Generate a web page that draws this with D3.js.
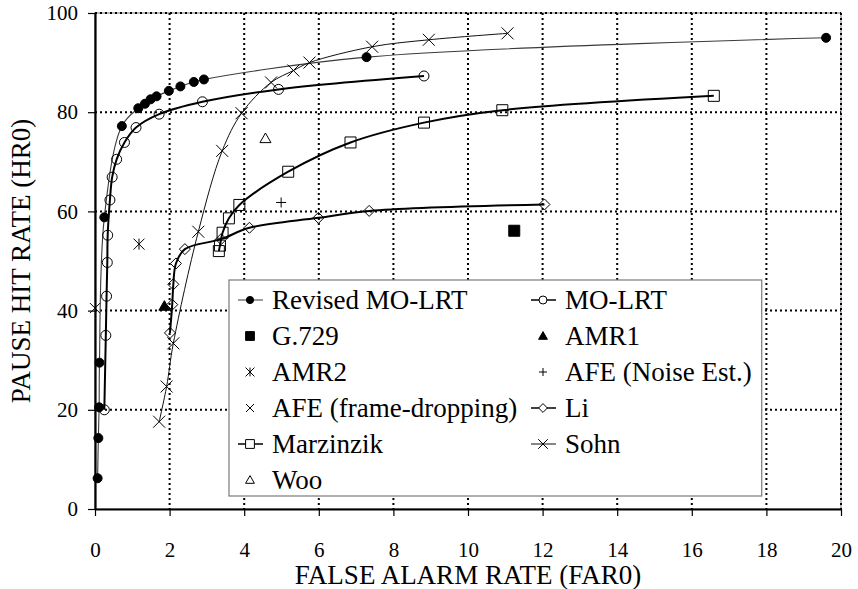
<!DOCTYPE html>
<html>
<head>
<meta charset="utf-8">
<script src="https://cdn.jsdelivr.net/npm/d3@7"></script>
<style>
  body { margin: 0; background: #fff; }
  svg text { font-family: "Liberation Serif", "Times New Roman", Times, "DejaVu Serif", serif; }
</style>
</head>
<body>
<div id="chart"></div>
<script>
// Values: FAR0 (x) and HR0 (y) for each detector
const revisedFar = [0.07, 0.09, 0.11, 0.12, 0.25, 0.72, 1.16, 1.34, 1.49, 1.65, 1.98, 2.29, 2.65, 2.92, 7.28, 19.6];
const revisedHr  = [6.2, 14.3, 20.5, 29.5, 58.8, 77.2, 80.8, 81.7, 82.6, 83.2, 84.3, 85.2, 86.1, 86.6, 91.1, 95.0];

const moLrtFar = [0.25, 0.29, 0.31, 0.33, 0.34, 0.40, 0.46, 0.58, 0.79, 1.10, 1.72, 2.88, 4.92, 8.82];
const moLrtHr  = [20.0, 35.0, 42.9, 49.7, 55.2, 62.3, 66.9, 70.5, 73.9, 76.9, 79.6, 82.1, 84.6, 87.3];

const liFar = [2.01, 2.07, 2.10, 2.17, 2.41, 3.38, 4.14, 5.99, 7.35, 12.05];
const liHr  = [35.5, 41.2, 45.3, 49.5, 52.4, 54.4, 56.7, 58.7, 60.1, 61.4];

const marzFar = [3.32, 3.35, 3.42, 3.59, 3.87, 5.18, 6.85, 8.82, 10.92, 16.59];
const marzHr  = [52.0, 53.1, 55.7, 58.6, 61.3, 68.0, 73.9, 77.9, 80.4, 83.3];

const sohnFar = [1.72, 1.92, 2.10, 2.77, 3.41, 3.93, 4.72, 5.32, 5.75, 7.43, 8.95, 11.06];
const sohnHr  = [17.6, 24.7, 33.4, 55.9, 72.2, 79.8, 86.0, 88.4, 90.0, 93.2, 94.6, 95.9];

// single operating points
const g729Far = [11.24], g729Hr = [56.1];
const amr1Far = [1.86], amr1Hr = [40.9];
const amr2Far = [1.18], amr2Hr = [53.4];
const afeNoiseFar = [4.99], afeNoiseHr = [61.8];
const afeDropFar = [0.0], afeDropHr = [40.5];
const wooFar = [4.57], wooHr = [74.7];

// Axis ticks
const xTicks = [0, 2, 4, 6, 8, 10, 12, 14, 16, 18, 20];
const yTicks = [0, 20, 40, 60, 80, 100];

// Series table (legend order, two columns row by row)
const series = [
    { name: "Revised MO-LRT", far: revisedFar, hr: revisedHr, shape: "circle", filled: true, size: 9, lineW: 1.1, lineC: "#3a3a3a" },
    { name: "MO-LRT", far: moLrtFar, hr: moLrtHr, shape: "circle", filled: false, size: 10, lineW: 2, lineC: "#000" },
    { name: "G.729", far: g729Far, hr: g729Hr, shape: "square", filled: true, size: 11 },
    { name: "AMR1", far: amr1Far, hr: amr1Hr, shape: "triangle", filled: true, size: 11 },
    { name: "AMR2", far: amr2Far, hr: amr2Hr, shape: "star", filled: false, size: 11 },
    { name: "AFE (Noise Est.)", far: afeNoiseFar, hr: afeNoiseHr, shape: "plus", filled: false, size: 10 },
    { name: "AFE (frame-dropping)", far: afeDropFar, hr: afeDropHr, shape: "x", filled: false, size: 10 },
    { name: "Li", far: liFar, hr: liHr, shape: "diamond", filled: false, size: 11, lineW: 2, lineC: "#000" },
    { name: "Marzinzik", far: marzFar, hr: marzHr, shape: "square", filled: false, size: 11, lineW: 2, lineC: "#000" },
    { name: "Sohn", far: sohnFar, hr: sohnHr, shape: "x", filled: false, size: 12, lineW: 1, lineC: "#111" },
    { name: "Woo", far: wooFar, hr: wooHr, shape: "triangle", filled: false, size: 11 }
];

// Sizes
const W = 858, H = 589;
const margin = { top: 13, right: 17, bottom: 80, left: 95 };
const width = W - margin.left - margin.right,
    height = H - margin.top - margin.bottom;

// marker shapes, centred on 0,0
function markerPath(shape, s) {
    const h = s / 2;
    switch (shape) {
        case "circle": return d3.symbol(d3.symbolCircle, Math.PI * h * h)();
        case "square": return `M${-h},${-h}H${h}V${h}H${-h}Z`;
        case "triangle": return `M0,${-h}L${h},${h * 0.75}L${-h},${h * 0.75}Z`;
        case "diamond": return `M0,${-h}L${h},0L0,${h}L${-h},0Z`;
        case "x": return `M${-h},${-h}L${h},${h}M${-h},${h}L${h},${-h}`;
        case "plus": return `M${-h},0H${h}M0,${-h}V${h}`;
        case "star": return `M${-h},${-h}L${h},${h}M${-h},${h}L${h},${-h}M0,${-h}V${h}`;
    }
}

const svg = d3.select("#chart")
    .append("svg")
    .attr("width", W)
    .attr("height", H);

const chart = svg.append("g")
    .attr("transform", `translate(${margin.left},${margin.top})`);

const x = d3.scaleLinear().domain([0, 20]).range([0, width]);
const y = d3.scaleLinear().domain([0, 100]).range([height, 0]);

// plot frame (grey)
chart.append("rect")
    .attr("width", width)
    .attr("height", height)
    .attr("fill", "#fff")
    .attr("stroke", "#8c8c8c")
    .attr("stroke-width", 1.2);

// dotted grid
chart.append("g")
    .selectAll("line")
    .data(xTicks.slice(1))
    .enter()
    .append("line")
    .attr("x1", d => x(d)).attr("x2", d => x(d))
    .attr("y1", 0).attr("y2", height)
    .attr("stroke", "#000")
    .attr("stroke-width", 2)
    .attr("stroke-dasharray", "2,3");

chart.append("g")
    .selectAll("line")
    .data(yTicks.slice(1))
    .enter()
    .append("line")
    .attr("y1", d => y(d)).attr("y2", d => y(d))
    .attr("x1", 0).attr("x2", width)
    .attr("stroke", "#000")
    .attr("stroke-width", 2)
    .attr("stroke-dasharray", "2,3");

// Axes
const yAxis = chart.append("g")
    .call(d3.axisLeft(y).tickValues(yTicks).tickSize(7).tickSizeOuter(0).tickPadding(10));
yAxis.attr("font-family", null);
yAxis.select(".domain").attr("stroke-width", 2.2);
yAxis.selectAll(".tick line").attr("stroke-width", 1.2);
yAxis.selectAll("text")
    .style("font-size", "21px")
    .attr("fill", "#000");

const xAxis = chart.append("g")
    .attr("transform", `translate(0,${height})`)
    .call(d3.axisBottom(x).tickValues(xTicks).tickSize(7).tickSizeOuter(0).tickPadding(26));
xAxis.attr("font-family", null);
xAxis.select(".domain").attr("stroke-width", 2.2);
xAxis.selectAll(".tick line").attr("stroke-width", 1.2);
xAxis.selectAll("text")
    .style("font-size", "21px")
    .attr("fill", "#000");

// Axis titles
svg.append("text")
    .attr("x", margin.left + width / 2)
    .attr("y", 584)
    .attr("text-anchor", "middle")
    .style("font-size", "27px")
    .text("FALSE ALARM RATE (FAR0)");

svg.append("text")
    .attr("transform", `translate(30,${margin.top + height / 2}) rotate(-90)`)
    .attr("text-anchor", "middle")
    .style("font-size", "27px")
    .text("PAUSE HIT RATE (HR0)");

// Lines (smoothed like the original)
const line = d3.line()
    .x(d => x(d[0]))
    .y(d => y(d[1]))
    .curve(d3.curveCatmullRom.alpha(0.5));

series.filter(s => s.lineW).forEach(s => {
    chart.append("path")
        .datum(d3.zip(s.far, s.hr))
        .attr("d", line)
        .attr("fill", "none")
        .attr("stroke", s.lineC)
        .attr("stroke-width", s.lineW);
});

// Markers
series.forEach(s => {
    chart.append("g")
        .selectAll("path")
        .data(d3.zip(s.far, s.hr))
        .enter()
        .append("path")
        .attr("transform", d => `translate(${x(d[0])},${y(d[1])})`)
        .attr("d", markerPath(s.shape, s.size))
        .attr("fill", s.filled ? "#000" : (s.shape === "triangle" ? "#fff" : "none"))
        .attr("stroke", "#000")
        .attr("stroke-width", 1);
});

// Legend
const legend = chart.append("g")
    .attr("transform", `translate(${229 - margin.left},${280 - margin.top})`);

const legendBox = legend.append("rect")
    .attr("fill", "#fff")
    .attr("stroke", "#7a7a7a")
    .attr("stroke-width", 1.2);

const rowH = 36, colX = [21, 314];
series.forEach((s, i) => {
    const col = i % 2, row = Math.floor(i / 2);
    const g = legend.append("g")
        .attr("transform", `translate(${colX[col]},${20 + row * rowH})`);
    if (s.lineW) {
        g.append("line")
            .attr("x1", -12).attr("x2", 13)
            .attr("stroke", s.lineC)
            .attr("stroke-width", s.lineW === 2 ? 1.5 : 1);
    }
    g.append("path")
        .attr("d", markerPath(s.shape, s.size * 0.8))
        .attr("fill", s.filled ? "#000" : "#fff")
        .attr("stroke", "#000")
        .attr("stroke-width", 1);
    g.append("text")
        .attr("x", 22)
        .attr("dy", "0.34em")
        .style("font-size", "27px")
        .text(s.name);
});

const lb = legend.node().getBBox();
legendBox
    .attr("width", lb.x + lb.width + 10)
    .attr("height", 216);
</script>
</body>
</html>
